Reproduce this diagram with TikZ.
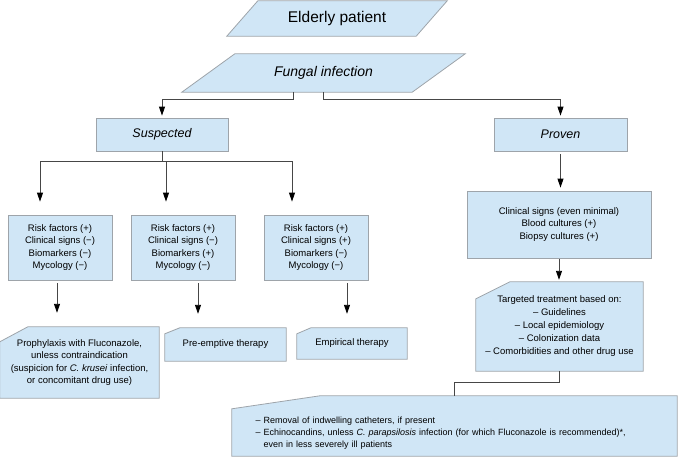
\documentclass[tikz,border=0pt]{standalone}
\usepackage{fontspec}
\setmainfont{Liberation Sans}
\usetikzlibrary{arrows.meta, calc, backgrounds}

\definecolor{boxblue}{RGB}{208,230,246}
\definecolor{boxedge}{RGB}{158,164,170}
\definecolor{linegrey}{RGB}{70,70,70}

\begin{document}
\begin{tikzpicture}[
  x=1pt, y=-1pt,
  every node/.style = {
    align=center,
    font=\fontsize{9.5}{12.5}\selectfont,
    inner sep=2pt
  },
  box/.style = {draw=boxedge, fill=boxblue, line width=0.8pt},
  link/.style = {draw=linegrey, line width=0.9pt},
  arrow/.style = {link, -{Triangle[length=9pt, width=6pt, color=black]}}
]
\useasboundingbox (0,0) rectangle (680,456);

% Top: patient and infection (outlines drawn below, on the background)
\node[minimum width=189pt, minimum height=35pt,
      font=\fontsize{15.5}{18}\selectfont] (elderly) at (337,18.5) {Elderly patient};

\node[minimum width=230pt, minimum height=38pt,
      font=\fontsize{14}{16}\selectfont\itshape] (fungal) at (323.5,73) {Fungal infection};

% Suspected / proven
\node[box, minimum width=132pt, minimum height=33pt,
      font=\fontsize{12.5}{15}\selectfont\itshape] (susp) at (162,134.5) {Suspected};
\node[box, minimum width=133pt, minimum height=33pt,
      font=\fontsize{12.5}{15}\selectfont\itshape] (proven) at (560.5,134.5) {Proven};

% Suspected: three profiles
\node[box, minimum width=104pt, minimum height=65pt] (rf1) at (60,247.5)
  {Risk factors (+)\\Clinical signs (−)\\Biomarkers (−)\\Mycology (−)};
\node[box, minimum width=104pt, minimum height=65pt] (rf2) at (183,247.5)
  {Risk factors (+)\\Clinical signs (−)\\Biomarkers (+)\\Mycology (−)};
\node[box, minimum width=104pt, minimum height=65pt] (rf3) at (316,247.5)
  {Risk factors (+)\\Clinical signs (+)\\Biomarkers (−)\\Mycology (−)};

% Suspected: therapies
\node[minimum width=159pt, minimum height=71pt] (proph) at (79.5,362.5)
  {Prophylaxis with Fluconazole,\\unless contraindication\\(suspicion for \textit{C. krusei} infection,\\or concomitant drug use)};
\node[minimum width=121pt, minimum height=33pt] (pre) at (225.5,344.5) {Pre-emptive therapy};
\node[minimum width=110pt, minimum height=31pt] (emp) at (352,343.5) {Empirical therapy};

% Proven branch
\node[box, minimum width=184pt, minimum height=67pt] (clin) at (559,224.5)
  {Clinical signs (even minimal)\\Blood cultures (+)\\Biopsy cultures (+)};
\node[minimum width=167pt, minimum height=89pt, font=\fontsize{9.5}{13}\selectfont] (targ) at (559.5,326.5)
  {Targeted treatment based on:\\– Guidelines\\– Local epidemiology\\– Colonization data\\– Comorbidities and other drug use};

% Bottom: general measures
\node[minimum width=445pt, minimum height=60pt, text width=398pt, align=left,
      font=\fontsize{9}{12}\selectfont] (big) at (454.5,426)
  {\rule{0pt}{20pt}– Removal of indwelling catheters, if present\\
   – Echinocandins, unless \textit{C. parapsilosis} infection (for which Fluconazole is recommended)*,\\
   \phantom{– }even in less severely ill patients};

% === OUTLINES ===
\begin{scope}[on background layer]
  % slanted boxes
  \foreach \n/\off in {elderly/31, fungal/53}
    \draw[box] ($(\n.south west)+(-\off/2,0)$) -- ($(\n.north west)+(\off/2,0)$)
      -- ($(\n.north east)+(\off/2,0)$) -- ($(\n.south east)+(-\off/2,0)$) -- cycle;
  % boxes with a cut corner
  \foreach \n/\cx/\cy in {proph/28/15, pre/15/6, emp/14/6, targ/34/17, big/88/13}
    \draw[box] ($(\n.north west)+(0,\cy)$) -- ($(\n.north west)+(\cx,0)$)
      -- (\n.north east) -- (\n.south east) -- (\n.south west) -- cycle;
\end{scope}

% === CONNECTORS ===
\draw[arrow, shorten >=2pt] ($(fungal.south)+(-30.5,0)$) -- ++(0,7) -| (susp.north);
\draw[arrow, shorten >=2pt] ($(fungal.south)+(-0.5,0)$) -- ++(0,7) -| (proven.north);

% suspected fork
\draw[link] (susp.south) -- ++(0,10) coordinate (sfork);
\draw[link] ($(sfork -| rf1.north)+(-20,0)$) -- ($(sfork -| rf3.north)+(-24,0)$);
\foreach \n/\dx in {rf1/-20, rf2/-17, rf3/-24}
  \draw[arrow, shorten >=13pt] ($(sfork -| \n.north)+(\dx,0)$) -- ($(\n.north)+(\dx,0)$);

% profiles to therapies
\draw[arrow, shorten <=3pt, shorten >=14pt] ($(rf1.south)+(-3,0)$) -- ($(rf1.south |- proph.north)+(-3,0)$);
\draw[arrow, shorten <=3pt, shorten >=14pt] ($(rf2.south)+(15,0)$) -- ($(rf2.south |- pre.north)+(15,0)$);
\draw[arrow, shorten <=3pt, shorten >=14pt] ($(rf3.south)+(31,0)$) -- ($(rf3.south |- emp.north)+(31,0)$);

% proven chain
\draw[arrow, shorten <=3pt, shorten >=3pt] (proven.south) -- (proven.south |- clin.north);
\draw[arrow, shorten <=1pt, shorten >=2pt] (clin.south) -- (clin.south |- targ.north);
\draw[link] (targ.south) -- ++(0,11) -| (big.north);

\end{tikzpicture}
\end{document}
